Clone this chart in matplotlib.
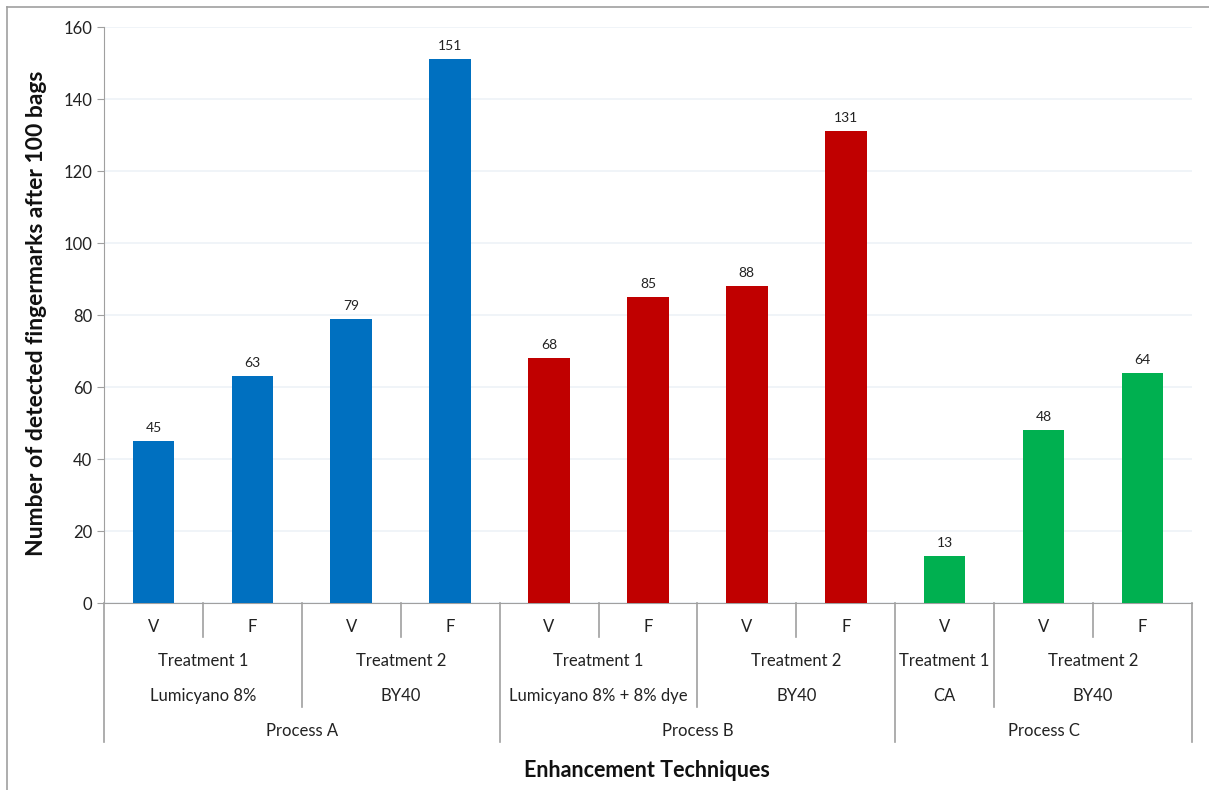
import matplotlib.pyplot as plt
from matplotlib.lines import Line2D
from matplotlib.transforms import blended_transform_factory

plt.rcParams['font.family'] = ['Lato', 'DejaVu Sans']

# bars, left to right
modes = ['V', 'F', 'V', 'F', 'V', 'F', 'V', 'F', 'V', 'V', 'F']
counts = [45, 63, 79, 151, 68, 85, 88, 131, 13, 48, 64]
process_of_bar = ['A', 'A', 'A', 'A', 'B', 'B', 'B', 'B', 'C', 'C', 'C']

# category groups: (label, first bar, last bar)
treatments = [('Treatment 1', 0, 1), ('Treatment 2', 2, 3),
              ('Treatment 1', 4, 5), ('Treatment 2', 6, 7),
              ('Treatment 1', 8, 8), ('Treatment 2', 9, 10)]
reagents = ['Lumicyano 8%', 'BY40', 'Lumicyano 8% + 8% dye', 'BY40', 'CA', 'BY40']
processes = [('Process A', 0, 3), ('Process B', 4, 7), ('Process C', 8, 10)]

colors = {'A': '#0070C0', 'B': '#C00000', 'C': '#00B050'}

fig = plt.figure(figsize=(12.09, 7.9), dpi=100)
ax = fig.add_axes([0.0860, 0.2367, 0.8999, 0.7291])

x = list(range(len(counts)))
bars = ax.bar(x, counts, width=0.42, color=[colors[p] for p in process_of_bar], zorder=3)
for xi, v in zip(x, counts):
    ax.annotate(str(v), (xi, v), xytext=(0, 5), textcoords='offset points',
                ha='center', va='bottom', fontsize=10, color='#222222')

ax.set_xlim(-0.5, len(counts) - 0.5)
ax.set_ylim(0, 160)
ax.set_yticks(range(0, 161, 20))
ax.tick_params(axis='y', labelsize=12, length=5, color='#A0A0A0', labelcolor='#222222')
ax.set_xticks([])
ax.grid(axis='y', color='#EDF2F7', linewidth=1.2, zorder=0)
for s in ['top', 'right']:
    ax.spines[s].set_visible(False)
ax.spines['left'].set_color('#A0A0A0')
ax.spines['bottom'].set_color('#A0A0A0')

# multi-level category axis
tr = blended_transform_factory(ax.transData, ax.transAxes)
row_y = [-0.0417, -0.1007, -0.1615, -0.2222]
line_ends = [-0.059, -0.1806, -0.2413]
lab_kw = dict(transform=tr, ha='center', va='center', fontsize=12, color='#222222', clip_on=False)

for xi, m in zip(x, modes):
    ax.text(xi, row_y[0], m, **lab_kw)
for (t, a, b), r in zip(treatments, reagents):
    ax.text((a + b) / 2, row_y[1], t, **lab_kw)
    ax.text((a + b) / 2, row_y[2], r, **lab_kw)
for p, a, b in processes:
    ax.text((a + b) / 2, row_y[3], p, **lab_kw)

def vline(xpos, yend):
    ax.add_line(Line2D([xpos, xpos], [0, yend], transform=tr, color='#A0A0A0',
                       linewidth=1.2, clip_on=False))

proc_edges = {processes[0][1] - 0.5} | {b + 0.5 for _, _, b in processes}
treat_edges = {b + 0.5 for _, _, b in treatments} - proc_edges
mode_edges = {xi + 0.5 for xi in x[:-1]} - proc_edges - treat_edges
for e in mode_edges:
    vline(e, line_ends[0])
for e in treat_edges:
    vline(e, line_ends[1])
for e in proc_edges:
    vline(e, line_ends[2])

fig.text(0.030, 0.604, 'Number of detected fingermarks after 100 bags', rotation=90,
         ha='center', va='center', fontsize=16.5, fontweight='bold', color='#111111')
fig.text(0.535, 0.025, 'Enhancement Techniques', ha='center', va='center',
         fontsize=15.5, fontweight='bold', color='#111111')

# chart frame (top and left edges)
fig.add_artist(Line2D([0.0058, 1.0], [0.991, 0.991], transform=fig.transFigure, color='#A0A0A0', linewidth=1.2))
fig.add_artist(Line2D([0.0058, 0.0058], [0.0, 0.991], transform=fig.transFigure, color='#A0A0A0', linewidth=1.2))

fig.savefig('out.png', dpi=100, facecolor='white')
